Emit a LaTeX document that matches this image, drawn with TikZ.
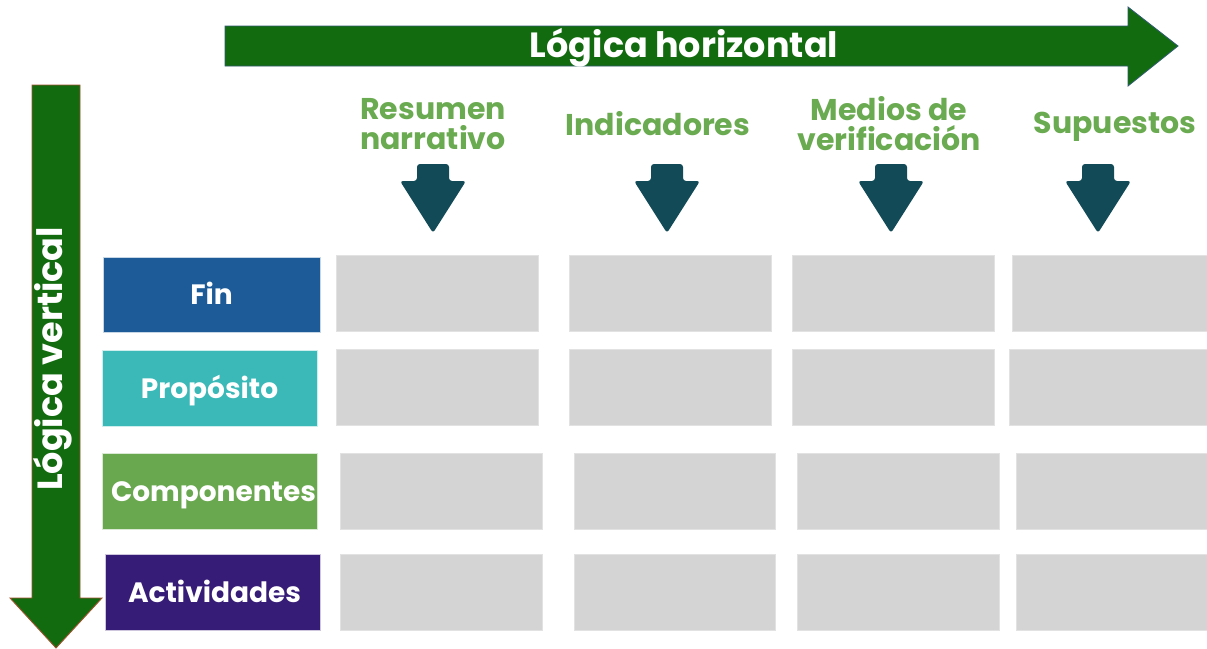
\documentclass[tikz,border=0pt]{standalone}
\usepackage{fontspec}
\setmainfont{Poppins}
\usetikzlibrary{fit}
\definecolor{arrowgreen}{HTML}{136B0F}
\definecolor{arrowedge}{HTML}{2F5A72}
\definecolor{vedge}{HTML}{A0522D}
\definecolor{headgreen}{HTML}{6AAA50}
\definecolor{darkteal}{HTML}{124B57}
\definecolor{cellgray}{HTML}{D4D4D4}
\definecolor{celledge}{HTML}{E2E2E2}
\definecolor{finblue}{HTML}{1D5B98}
\definecolor{propteal}{HTML}{3BB8B8}
\definecolor{compgreen}{HTML}{6AA84F}
\definecolor{actpurple}{HTML}{361C76}
\tikzset{
  cell/.style={fill=cellgray, draw=celledge, line width=0.8pt, inner sep=0pt},
  labelbox/.style={draw=white!75!#1, fill=#1, line width=0.8pt, inner sep=0pt},
  labeltext/.style={text=white, anchor=base, inner sep=0pt, font=\bfseries\fontsize{28}{30}\selectfont},
  header/.style={text=headgreen, align=center, inner sep=0pt, font=\bfseries\fontsize{30}{30}\selectfont},
  bigtext/.style={text=white, anchor=base, inner sep=0pt, font=\bfseries\fontsize{35}{38}\selectfont},
  downarrow/.style={fill=darkteal, rounded corners=3pt},
}
\begin{document}
\begin{tikzpicture}[x=1pt,y=-1pt]
\useasboundingbox (0,0) rectangle (1207,648);
\fill[white] (0,0) rectangle (1207,648);
% horizontal arrow
\draw[fill=arrowgreen, draw=arrowedge, line width=0.8pt]
  (225,26) -- (1128,26) -- (1128,7) -- (1178,46) -- (1128,86) -- (1128,66) -- (225,66) -- cycle;
\node[bigtext] (hlog) at (684,57) {Lógica horizontal};
% vertical arrow
\draw[fill=arrowgreen, draw=vedge, line width=0.9pt]
  (32,85) -- (80,85) -- (80,598) -- (102,598) -- (56,648) -- (10,598) -- (32,598) -- cycle;
\node[bigtext, rotate=90] (vlog) at (62,359) {Lógica vertical};
% headers
\node[header] (h1) at (433,124) {Resumen\\narrativo};
\node[header, anchor=base] (h2) at (658,135) {Indicadores};
\node[header] (h3) at (889,124) {Medios de\\verificación};
\node[header, anchor=base] (h4) at (1115,133) {Supuestos};
% down arrows
\foreach \cx in {433,667,891,1098}{
  \fill[downarrow] (\cx-16,164) -- (\cx+16,164) -- (\cx+16,181) -- (\cx+33,181)
    -- (\cx,233) -- (\cx-33,181) -- (\cx-16,181) -- cycle;
}
% row labels
\node[labelbox=finblue, fit={(103,257) (320,332)}] (fin) {};
\node[labeltext] at ([yshift=-10pt]fin.center) {Fin};
\node[labelbox=propteal, fit={(102,350) (317,426)}] (prop) {};
\node[labeltext] at ([yshift=-10pt]prop.center) {Propósito};
\node[labelbox=compgreen, fit={(102,453) (317,529)}] (comp) {};
\node[labeltext] at ([xshift=4pt,yshift=-10pt]comp.center) {Componentes};
\node[labelbox=actpurple, fit={(105,554) (320,630)}] (act) {};
\node[labeltext] at ([xshift=2pt,yshift=-10pt]act.center) {Actividades};
% cells
\node[cell, fit={(336,255) (538,331)}] (c11) {};
\node[cell, fit={(569,255) (771,331)}] (c12) {};
\node[cell, fit={(792,255) (994,331)}] (c13) {};
\node[cell, fit={(1012,255) (1212,331)}] (c14) {};
\node[cell, fit={(336,349) (538,425)}] (c21) {};
\node[cell, fit={(569,349) (771,425)}] (c22) {};
\node[cell, fit={(792,349) (994,425)}] (c23) {};
\node[cell, fit={(1009,349) (1212,425)}] (c24) {};
\node[cell, fit={(340,453) (542,529)}] (c31) {};
\node[cell, fit={(574,453) (775,529)}] (c32) {};
\node[cell, fit={(797,453) (999,529)}] (c33) {};
\node[cell, fit={(1016,453) (1212,529)}] (c34) {};
\node[cell, fit={(340,554) (542,630)}] (c41) {};
\node[cell, fit={(574,554) (775,630)}] (c42) {};
\node[cell, fit={(797,554) (999,630)}] (c43) {};
\node[cell, fit={(1016,554) (1212,630)}] (c44) {};
\end{tikzpicture}
\end{document}
